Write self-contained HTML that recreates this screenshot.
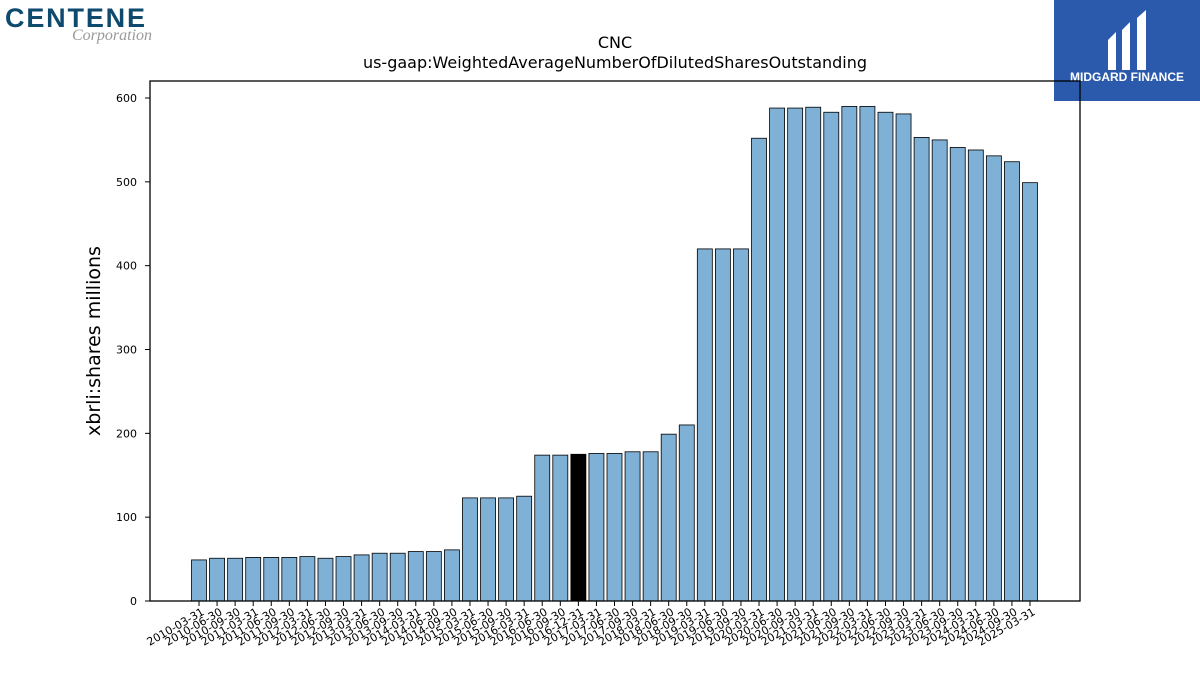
<!DOCTYPE html>
<html><head><meta charset="utf-8"><style>
body{margin:0;width:1200px;height:675px;background:#fff;overflow:hidden;font-family:"DejaVu Sans","Liberation Sans",sans-serif;}
</style></head><body>
<svg width="1200" height="675" xmlns="http://www.w3.org/2000/svg">
<g>
<text x="5" y="27" font-family="Liberation Sans, sans-serif" font-weight="bold" font-size="27" fill="#0e4a6e" textLength="140">CENTENE</text>
<text x="72" y="40" font-family="Liberation Serif, serif" font-style="italic" font-size="16" fill="#999">Corporation</text>
</g>
<g>
<rect x="1054" y="0" width="146" height="101" fill="#2b5aad"/>
<path d="M1108 40 L1116 32 L1116 70 L1108 70 Z M1122 30 L1130 22 L1130 70 L1122 70 Z M1137 18 L1146 10 L1146 70 L1137 70 Z" fill="#fff"/>
<text x="1127" y="81" text-anchor="middle" font-family="Liberation Sans, sans-serif" font-weight="bold" font-size="12" fill="#fff">MIDGARD FINANCE</text>
</g>
<text x="615" y="48" text-anchor="middle" font-size="16">CNC</text>
<text x="615" y="68" text-anchor="middle" font-size="16">us-gaap:WeightedAverageNumberOfDilutedSharesOutstanding</text>
<text transform="translate(100,341) rotate(-90)" text-anchor="middle" font-size="19">xbrli:shares millions</text>
<g id="plot"></g>
<rect x="150" y="81" width="930" height="520" fill="none" stroke="#000" stroke-width="1.3"/>
</svg>
<script>
const categories=["2010-03-31","2010-06-30","2010-09-30","2011-03-31","2011-06-30","2011-09-30","2012-03-31","2012-06-30","2012-09-30","2013-03-31","2013-06-30","2013-09-30","2014-03-31","2014-06-30","2014-09-30","2015-03-31","2015-06-30","2015-09-30","2016-03-31","2016-06-30","2016-09-30","2016-12-31","2017-03-31","2017-06-30","2017-09-30","2018-03-31","2018-06-30","2018-09-30","2019-03-31","2019-06-30","2019-09-30","2020-03-31","2020-06-30","2020-09-30","2021-03-31","2021-06-30","2021-09-30","2022-03-31","2022-06-30","2022-09-30","2023-03-31","2023-06-30","2023-09-30","2024-03-31","2024-06-30","2024-09-30","2025-03-31"];
const values=[49,51,51,52,52,52,53,51,53,55,57,57,59,59,61,123,123,123,125,174,174,175,176,176,178,178,199,210,420,420,420,552,588,588,589,583,590,590,583,581,553,550,541,538,531,524,499];
const highlight=["2016-12-31"];
const yTicks=[0,100,200,300,400,500,600];
const NS="http://www.w3.org/2000/svg";
const g=document.getElementById('plot');
const y=v=>601-v*503/600;
const x=i=>199+i*(1030-199)/(categories.length-1);
const bw=15;
function mk(t,a){const e=document.createElementNS(NS,t);for(const k in a)e.setAttribute(k,a[k]);g.appendChild(e);return e;}
yTicks.forEach(t=>{
 const l=mk('line',{x1:145,x2:150,y1:y(t),y2:y(t),stroke:'#000'});
 
 
 const tx=mk('text',{x:137,y:y(t)+4,'text-anchor':'end','font-size':11});
 tx.textContent=t;
 
 
});
categories.forEach((c,i)=>{
 const hl=highlight.includes(c);
 const r=mk('rect',{x:x(i)-bw/2,y:y(values[i]),width:bw,height:601-y(values[i]),fill:hl?'#000':'#7fb0d5',stroke:'#000','stroke-width':0.8});
 
 
 const t=mk('line',{x1:x(i),x2:x(i),y1:601,y2:606,stroke:'#000'});
 
 
 const tx=mk('text',{x:x(i)+6,y:614,'text-anchor':'end','font-size':11,transform:`rotate(-30 ${x(i)+6} 614)`});
 tx.textContent=c;
 
 
});
</script>
</body></html>
